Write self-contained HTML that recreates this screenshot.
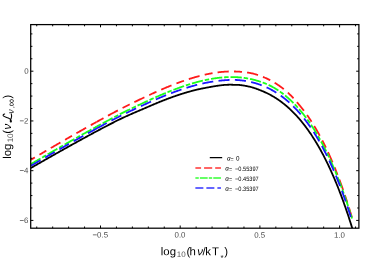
<!DOCTYPE html><html><head><meta charset="utf-8"><style>html,body{margin:0;padding:0;background:#fff}svg{display:block}text{font-family:"Liberation Sans",sans-serif;text-rendering:geometricPrecision}</style></head><body>
<svg width="373" height="259" viewBox="0 0 373 259">
<rect width="373" height="259" fill="#fff"/>
<defs><filter id="i" filterUnits="userSpaceOnUse" x="0" y="0" width="373" height="259" color-interpolation-filters="sRGB"><feOffset dx="0" dy="0"/></filter><clipPath id="c"><rect x="30.70" y="24.60" width="328.20" height="203.60"/></clipPath></defs>
<g clip-path="url(#c)" fill="none" stroke-linejoin="round">
<path d="M30.70,168.09 L31.20,167.80 L31.70,167.51 L32.20,167.23 L32.70,166.94 L33.20,166.65 L33.70,166.36 L34.20,166.08 L34.70,165.79 L35.20,165.50 L35.70,165.22 L36.20,164.93 L36.70,164.64 L37.20,164.36 L37.70,164.07 L38.20,163.78 L38.70,163.50 L39.20,163.21 L39.70,162.93 L40.20,162.64 L40.70,162.35 L41.20,162.07 L41.70,161.78 L42.20,161.50 L42.70,161.21 L43.20,160.93 L43.70,160.64 L44.20,160.35 L44.70,160.07 L45.20,159.78 L45.70,159.50 L46.20,159.21 L46.70,158.93 L47.20,158.65 L47.70,158.36 L48.20,158.08 L48.70,157.79 L49.20,157.51 L49.70,157.22 L50.20,156.94 L50.70,156.66 L51.20,156.37 L51.70,156.09 L52.20,155.81 L52.70,155.52 L53.20,155.24 L53.70,154.96 L54.20,154.67 L54.70,154.39 L55.20,154.11 L55.70,153.83 L56.20,153.54 L56.70,153.26 L57.20,152.98 L57.70,152.70 L58.20,152.41 L58.70,152.13 L59.20,151.85 L59.70,151.57 L60.20,151.29 L60.70,151.01 L61.20,150.73 L61.70,150.45 L62.20,150.16 L62.70,149.88 L63.20,149.60 L63.70,149.32 L64.20,149.04 L64.70,148.76 L65.20,148.48 L65.70,148.20 L66.20,147.92 L66.70,147.64 L67.20,147.37 L67.70,147.09 L68.20,146.81 L68.70,146.53 L69.20,146.25 L69.70,145.97 L70.20,145.69 L70.70,145.41 L71.20,145.14 L71.70,144.86 L72.20,144.58 L72.70,144.30 L73.20,144.03 L73.70,143.75 L74.20,143.47 L74.70,143.20 L75.20,142.92 L75.70,142.64 L76.20,142.37 L76.70,142.09 L77.20,141.81 L77.70,141.54 L78.20,141.26 L78.70,140.99 L79.20,140.71 L79.70,140.44 L80.20,140.16 L80.70,139.89 L81.20,139.62 L81.70,139.34 L82.20,139.07 L82.70,138.79 L83.20,138.52 L83.70,138.25 L84.20,137.97 L84.70,137.70 L85.20,137.43 L85.70,137.16 L86.20,136.88 L86.70,136.61 L87.20,136.34 L87.70,136.07 L88.20,135.80 L88.70,135.53 L89.20,135.26 L89.70,134.99 L90.20,134.72 L90.70,134.45 L91.20,134.18 L91.70,133.91 L92.20,133.64 L92.70,133.37 L93.20,133.10 L93.70,132.83 L94.20,132.56 L94.70,132.29 L95.20,132.03 L95.70,131.76 L96.20,131.49 L96.70,131.22 L97.20,130.96 L97.70,130.69 L98.20,130.43 L98.70,130.16 L99.20,129.89 L99.70,129.63 L100.20,129.36 L100.70,129.10 L101.20,128.83 L101.70,128.57 L102.20,128.31 L102.70,128.04 L103.20,127.78 L103.70,127.52 L104.20,127.25 L104.70,126.99 L105.20,126.73 L105.70,126.47 L106.20,126.21 L106.70,125.95 L107.20,125.69 L107.70,125.43 L108.20,125.17 L108.70,124.91 L109.20,124.65 L109.70,124.39 L110.20,124.13 L110.70,123.87 L111.20,123.61 L111.70,123.36 L112.20,123.10 L112.70,122.84 L113.20,122.58 L113.70,122.33 L114.20,122.07 L114.70,121.82 L115.20,121.56 L115.70,121.31 L116.20,121.06 L116.70,120.81 L117.20,120.56 L117.70,120.31 L118.20,120.06 L118.70,119.82 L119.20,119.57 L119.70,119.33 L120.20,119.09 L120.70,118.85 L121.20,118.61 L121.70,118.37 L122.20,118.13 L122.70,117.90 L123.20,117.67 L123.70,117.43 L124.20,117.20 L124.70,116.97 L125.20,116.74 L125.70,116.51 L126.20,116.29 L126.70,116.06 L127.20,115.84 L127.70,115.61 L128.20,115.39 L128.70,115.17 L129.20,114.95 L129.70,114.72 L130.20,114.50 L130.70,114.29 L131.20,114.07 L131.70,113.85 L132.20,113.63 L132.70,113.41 L133.20,113.20 L133.70,112.98 L134.20,112.77 L134.70,112.55 L135.20,112.34 L135.70,112.12 L136.20,111.91 L136.70,111.70 L137.20,111.48 L137.70,111.27 L138.20,111.05 L138.70,110.84 L139.20,110.63 L139.70,110.41 L140.20,110.20 L140.70,109.99 L141.20,109.78 L141.70,109.56 L142.20,109.35 L142.70,109.13 L143.20,108.92 L143.70,108.71 L144.20,108.49 L144.70,108.28 L145.20,108.06 L145.70,107.85 L146.20,107.63 L146.70,107.42 L147.20,107.20 L147.70,106.98 L148.20,106.77 L148.70,106.55 L149.20,106.33 L149.70,106.12 L150.20,105.90 L150.70,105.68 L151.20,105.47 L151.70,105.25 L152.20,105.04 L152.70,104.82 L153.20,104.61 L153.70,104.40 L154.20,104.18 L154.70,103.97 L155.20,103.76 L155.70,103.55 L156.20,103.34 L156.70,103.14 L157.20,102.93 L157.70,102.72 L158.20,102.52 L158.70,102.31 L159.20,102.11 L159.70,101.91 L160.20,101.70 L160.70,101.50 L161.20,101.30 L161.70,101.10 L162.20,100.90 L162.70,100.70 L163.20,100.51 L163.70,100.31 L164.20,100.12 L164.70,99.92 L165.20,99.73 L165.70,99.54 L166.20,99.34 L166.70,99.15 L167.20,98.96 L167.70,98.77 L168.20,98.59 L168.70,98.40 L169.20,98.21 L169.70,98.03 L170.20,97.84 L170.70,97.66 L171.20,97.48 L171.70,97.30 L172.20,97.12 L172.70,96.94 L173.20,96.76 L173.70,96.58 L174.20,96.41 L174.70,96.23 L175.20,96.06 L175.70,95.89 L176.20,95.72 L176.70,95.54 L177.20,95.38 L177.70,95.21 L178.20,95.04 L178.70,94.87 L179.20,94.71 L179.70,94.54 L180.20,94.38 L180.70,94.22 L181.20,94.06 L181.70,93.90 L182.20,93.74 L182.70,93.59 L183.20,93.43 L183.70,93.28 L184.20,93.12 L184.70,92.97 L185.20,92.82 L185.70,92.67 L186.20,92.52 L186.70,92.38 L187.20,92.23 L187.70,92.09 L188.20,91.94 L188.70,91.80 L189.20,91.66 L189.70,91.52 L190.20,91.38 L190.70,91.25 L191.20,91.11 L191.70,90.98 L192.20,90.84 L192.70,90.71 L193.20,90.58 L193.70,90.46 L194.20,90.33 L194.70,90.20 L195.20,90.08 L195.70,89.96 L196.20,89.84 L196.70,89.72 L197.20,89.60 L197.70,89.48 L198.20,89.37 L198.70,89.25 L199.20,89.14 L199.70,89.03 L200.20,88.92 L200.70,88.81 L201.20,88.71 L201.70,88.60 L202.20,88.50 L202.70,88.40 L203.20,88.30 L203.70,88.20 L204.20,88.11 L204.70,88.01 L205.20,87.92 L205.70,87.83 L206.20,87.73 L206.70,87.64 L207.20,87.55 L207.70,87.46 L208.20,87.37 L208.70,87.27 L209.20,87.18 L209.70,87.09 L210.20,87.00 L210.70,86.91 L211.20,86.82 L211.70,86.73 L212.20,86.65 L212.70,86.56 L213.20,86.47 L213.70,86.39 L214.20,86.30 L214.70,86.22 L215.20,86.14 L215.70,86.06 L216.20,85.98 L216.70,85.90 L217.20,85.82 L217.70,85.75 L218.20,85.67 L218.70,85.60 L219.20,85.53 L219.70,85.47 L220.20,85.40 L220.70,85.34 L221.20,85.28 L221.70,85.22 L222.20,85.17 L222.70,85.11 L223.20,85.06 L223.70,85.02 L224.20,84.97 L224.70,84.93 L225.20,84.89 L225.70,84.86 L226.20,84.83 L226.70,84.80 L227.20,84.78 L227.70,84.76 L228.20,84.74 L228.70,84.73 L229.20,84.72 L229.70,84.71 L230.20,84.71 L230.70,84.71 L231.20,84.72 L231.70,84.73 L232.20,84.74 L232.70,84.76 L233.20,84.78 L233.70,84.80 L234.20,84.81 L234.70,84.82 L235.20,84.83 L235.70,84.83 L236.20,84.84 L236.70,84.85 L237.20,84.86 L237.70,84.87 L238.20,84.89 L238.70,84.92 L239.20,84.96 L239.70,85.01 L240.20,85.07 L240.70,85.13 L241.20,85.19 L241.70,85.26 L242.20,85.33 L242.70,85.40 L243.20,85.48 L243.70,85.56 L244.20,85.64 L244.70,85.73 L245.20,85.81 L245.70,85.91 L246.20,86.00 L246.70,86.10 L247.20,86.20 L247.70,86.30 L248.20,86.41 L248.70,86.51 L249.20,86.63 L249.70,86.74 L250.20,86.86 L250.70,86.99 L251.20,87.12 L251.70,87.25 L252.20,87.39 L252.70,87.54 L253.20,87.69 L253.70,87.85 L254.20,88.01 L254.70,88.18 L255.20,88.35 L255.70,88.52 L256.20,88.70 L256.70,88.88 L257.20,89.07 L257.70,89.26 L258.20,89.45 L258.70,89.64 L259.20,89.83 L259.70,90.03 L260.20,90.23 L260.70,90.42 L261.20,90.63 L261.70,90.83 L262.20,91.03 L262.70,91.24 L263.20,91.45 L263.70,91.66 L264.20,91.88 L264.70,92.10 L265.20,92.33 L265.70,92.56 L266.20,92.79 L266.70,93.03 L267.20,93.27 L267.70,93.52 L268.20,93.77 L268.70,94.02 L269.20,94.28 L269.70,94.54 L270.20,94.81 L270.70,95.08 L271.20,95.36 L271.70,95.64 L272.20,95.92 L272.70,96.21 L273.20,96.50 L273.70,96.80 L274.20,97.10 L274.70,97.41 L275.20,97.72 L275.70,98.04 L276.20,98.36 L276.70,98.68 L277.20,99.01 L277.70,99.35 L278.20,99.69 L278.70,100.03 L279.20,100.38 L279.70,100.73 L280.20,101.09 L280.70,101.46 L281.20,101.83 L281.70,102.20 L282.20,102.58 L282.70,102.96 L283.20,103.35 L283.70,103.75 L284.20,104.15 L284.70,104.55 L285.20,104.96 L285.70,105.38 L286.20,105.80 L286.70,106.22 L287.20,106.66 L287.70,107.09 L288.20,107.54 L288.70,107.98 L289.20,108.44 L289.70,108.90 L290.20,109.36 L290.70,109.83 L291.20,110.31 L291.70,110.79 L292.20,111.28 L292.70,111.77 L293.20,112.27 L293.70,112.78 L294.20,113.29 L294.70,113.81 L295.20,114.33 L295.70,114.87 L296.20,115.40 L296.70,115.94 L297.20,116.49 L297.70,117.05 L298.20,117.61 L298.70,118.18 L299.20,118.75 L299.70,119.34 L300.20,119.92 L300.70,120.52 L301.20,121.12 L301.70,121.73 L302.20,122.34 L302.70,122.96 L303.20,123.59 L303.70,124.23 L304.20,124.87 L304.70,125.52 L305.20,126.17 L305.70,126.84 L306.20,127.51 L306.70,128.18 L307.20,128.87 L307.70,129.56 L308.20,130.26 L308.70,130.97 L309.20,131.68 L309.70,132.40 L310.20,133.13 L310.70,133.87 L311.20,134.61 L311.70,135.37 L312.20,136.13 L312.70,136.90 L313.20,137.67 L313.70,138.46 L314.20,139.25 L314.70,140.05 L315.20,140.86 L315.70,141.67 L316.20,142.50 L316.70,143.33 L317.20,144.17 L317.70,145.02 L318.20,145.88 L318.70,146.75 L319.20,147.62 L319.70,148.51 L320.20,149.40 L320.70,150.30 L321.20,151.22 L321.70,152.14 L322.20,153.06 L322.70,154.00 L323.20,154.95 L323.70,155.91 L324.20,156.87 L324.70,157.85 L325.20,158.83 L325.70,159.82 L326.20,160.83 L326.70,161.84 L327.20,162.86 L327.70,163.90 L328.20,164.94 L328.70,165.99 L329.20,167.05 L329.70,168.13 L330.20,169.21 L330.70,170.30 L331.20,171.40 L331.70,172.52 L332.20,173.64 L332.70,174.77 L333.20,175.92 L333.70,177.07 L334.20,178.24 L334.70,179.42 L335.20,180.61 L335.70,181.80 L336.20,183.01 L336.70,184.23 L337.20,185.47 L337.70,186.71 L338.20,187.97 L338.70,189.23 L339.20,190.51 L339.70,191.80 L340.20,193.10 L340.70,194.41 L341.20,195.74 L341.70,197.07 L342.20,198.42 L342.70,199.78 L343.20,201.16 L343.70,202.54 L344.20,203.94 L344.70,205.35 L345.20,206.77 L345.70,208.21 L346.20,209.66 L346.70,211.12 L347.20,212.59 L347.70,214.08 L348.20,215.58 L348.70,217.09 L349.20,218.62 L349.70,220.16 L350.20,221.71 L350.70,223.28 L351.20,224.86 L351.70,226.45 L352.20,228.06 L352.30,228.39" stroke="#000" stroke-width="1.8"/>
<path d="M30.70,159.90 L31.20,159.60 L31.70,159.31 L32.20,159.01 L32.70,158.72 L33.20,158.42 L33.70,158.12 L34.20,157.83 L34.70,157.53 L35.20,157.24 L35.70,156.94 L36.20,156.65 L36.70,156.35 L37.20,156.06 L37.70,155.76 L38.20,155.47 L38.70,155.17 L39.20,154.88 L39.70,154.59 L40.20,154.29 L40.70,154.00 L41.20,153.70 L41.70,153.41 L42.20,153.11 L42.70,152.82 L43.20,152.53 L43.70,152.23 L44.20,151.94 L44.70,151.65 L45.20,151.35 L45.70,151.06 L46.20,150.77 L46.70,150.47 L47.20,150.18 L47.70,149.89 L48.20,149.59 L48.70,149.30 L49.20,149.01 L49.70,148.72 L50.20,148.42 L50.70,148.13 L51.20,147.84 L51.70,147.55 L52.20,147.26 L52.70,146.96 L53.20,146.67 L53.70,146.38 L54.20,146.09 L54.70,145.80 L55.20,145.51 L55.70,145.22 L56.20,144.93 L56.70,144.63 L57.20,144.34 L57.70,144.05 L58.20,143.76 L58.70,143.47 L59.20,143.18 L59.70,142.89 L60.20,142.60 L60.70,142.31 L61.20,142.02 L61.70,141.73 L62.20,141.44 L62.70,141.15 L63.20,140.86 L63.70,140.58 L64.20,140.29 L64.70,140.00 L65.20,139.71 L65.70,139.42 L66.20,139.13 L66.70,138.84 L67.20,138.56 L67.70,138.27 L68.20,137.98 L68.70,137.69 L69.20,137.41 L69.70,137.12 L70.20,136.83 L70.70,136.54 L71.20,136.26 L71.70,135.97 L72.20,135.68 L72.70,135.40 L73.20,135.11 L73.70,134.83 L74.20,134.54 L74.70,134.25 L75.20,133.97 L75.70,133.68 L76.20,133.40 L76.70,133.11 L77.20,132.83 L77.70,132.54 L78.20,132.26 L78.70,131.97 L79.20,131.69 L79.70,131.41 L80.20,131.12 L80.70,130.84 L81.20,130.55 L81.70,130.27 L82.20,129.99 L82.70,129.70 L83.20,129.42 L83.70,129.14 L84.20,128.86 L84.70,128.58 L85.20,128.29 L85.70,128.01 L86.20,127.73 L86.70,127.45 L87.20,127.17 L87.70,126.89 L88.20,126.61 L88.70,126.33 L89.20,126.04 L89.70,125.76 L90.20,125.48 L90.70,125.21 L91.20,124.93 L91.70,124.65 L92.20,124.37 L92.70,124.09 L93.20,123.81 L93.70,123.53 L94.20,123.25 L94.70,122.98 L95.20,122.70 L95.70,122.42 L96.20,122.14 L96.50,121.98" stroke="#ff1a1a" stroke-width="1.80" stroke-dasharray="8.0 5.1 11.2 5.3" stroke-dashoffset="19.40"/>
<path d="M96.50,121.98 L97.00,121.70 L97.50,121.42 L98.00,121.15 L98.50,120.87 L99.00,120.60 L99.50,120.32 L100.00,120.04 L100.50,119.77 L101.00,119.50 L101.50,119.22 L102.00,118.95 L102.50,118.67 L103.00,118.40 L103.50,118.13 L104.00,117.85 L104.50,117.58 L105.00,117.31 L105.50,117.03 L106.00,116.76 L106.50,116.49 L107.00,116.22 L107.50,115.95 L108.00,115.68 L108.50,115.41 L109.00,115.14 L109.50,114.87 L110.00,114.60 L110.50,114.33 L111.00,114.06 L111.50,113.79 L112.00,113.52 L112.50,113.25 L113.00,112.98 L113.50,112.72 L114.00,112.45 L114.50,112.18 L115.00,111.92 L115.50,111.65 L116.00,111.39 L116.50,111.12 L117.00,110.86 L117.50,110.59 L118.00,110.33 L118.50,110.07 L119.00,109.81 L119.50,109.55 L120.00,109.29 L120.50,109.03 L121.00,108.77 L121.50,108.52 L122.00,108.26 L122.50,108.01 L123.00,107.75 L123.50,107.50 L124.00,107.24 L124.50,106.99 L125.00,106.74 L125.50,106.49 L126.00,106.24 L126.50,105.98 L127.00,105.74 L127.50,105.49 L128.00,105.24 L128.50,104.99 L129.00,104.74 L129.50,104.50 L130.00,104.25 L130.50,104.00 L131.00,103.76 L131.50,103.51 L132.00,103.27 L132.50,103.03 L133.00,102.78 L133.50,102.54 L134.00,102.30 L134.50,102.06 L135.00,101.82 L135.50,101.57 L136.00,101.33 L136.50,101.09 L137.00,100.85 L137.50,100.61 L138.00,100.37 L138.50,100.14 L139.00,99.90 L139.50,99.66 L140.00,99.42 L140.50,99.18 L141.00,98.95 L141.50,98.71 L142.00,98.47 L142.50,98.23 L143.00,98.00 L143.50,97.76 L144.00,97.53 L144.50,97.29 L145.00,97.05 L145.50,96.82 L146.00,96.58 L146.50,96.35 L147.00,96.11 L147.50,95.88 L148.00,95.65 L148.50,95.41 L149.00,95.18 L149.50,94.95 L150.00,94.71 L150.50,94.48 L151.00,94.25 L151.50,94.02 L152.00,93.78 L152.50,93.55 L153.00,93.32 L153.50,93.10 L154.00,92.87 L154.50,92.64 L155.00,92.41 L155.50,92.19 L156.00,91.96 L156.50,91.74 L157.00,91.51 L157.50,91.29 L158.00,91.07 L158.50,90.85 L159.00,90.63 L159.50,90.41 L160.00,90.19 L160.50,89.97 L161.00,89.75 L161.50,89.53 L162.00,89.32 L162.50,89.10 L163.00,88.89 L163.50,88.67 L164.00,88.46 L164.50,88.25 L165.00,88.04 L165.50,87.83 L166.00,87.62 L166.50,87.41 L167.00,87.20 L167.50,86.99 L168.00,86.79 L168.50,86.58 L169.00,86.38 L169.50,86.17 L170.00,85.97 L170.50,85.77 L171.00,85.57 L171.50,85.37 L172.00,85.17 L172.50,84.97 L173.00,84.78 L173.50,84.58 L174.00,84.39 L174.50,84.19 L175.00,84.00 L175.50,83.81 L176.00,83.62 L176.50,83.43 L177.00,83.24 L177.50,83.05 L178.00,82.86 L178.50,82.68 L179.00,82.49 L179.50,82.31 L180.00,82.13 L180.50,81.95 L181.00,81.77 L181.50,81.59 L182.00,81.41 L182.50,81.23 L183.00,81.06 L183.50,80.89 L184.00,80.71 L184.50,80.54 L185.00,80.37 L185.50,80.20 L186.00,80.03 L186.50,79.86 L187.00,79.70 L187.50,79.53 L188.00,79.37 L188.50,79.21 L189.00,79.05 L189.50,78.89 L190.00,78.73 L190.50,78.57 L191.00,78.42 L191.50,78.27 L192.00,78.11 L192.50,77.96 L193.00,77.81 L193.50,77.66 L194.00,77.52 L194.50,77.37 L195.00,77.23 L195.50,77.08 L196.00,76.94 L196.50,76.80 L197.00,76.66 L197.50,76.53 L198.00,76.39 L198.50,76.26 L199.00,76.12 L199.50,75.99 L200.00,75.86 L200.50,75.73 L201.00,75.61 L201.50,75.48 L202.00,75.36 L202.50,75.24 L203.00,75.12 L203.50,75.00 L204.00,74.88 L204.50,74.77 L205.00,74.66 L205.50,74.54 L206.00,74.44 L206.50,74.33 L207.00,74.22 L207.50,74.12 L208.00,74.01 L208.50,73.91 L209.00,73.81 L209.50,73.72 L210.00,73.62 L210.50,73.53 L211.00,73.43 L211.50,73.34 L212.00,73.26 L212.50,73.17 L213.00,73.08 L213.50,73.00 L214.00,72.92 L214.50,72.84 L215.00,72.77 L215.50,72.69 L216.00,72.62 L216.50,72.55 L217.00,72.48 L217.50,72.41 L218.00,72.35 L218.50,72.28 L219.00,72.22 L219.50,72.17 L220.00,72.11 L220.50,72.06 L221.00,72.00 L221.50,71.95 L222.00,71.91 L222.50,71.86 L223.00,71.82 L223.50,71.78 L224.00,71.74 L224.50,71.70 L225.00,71.67 L225.50,71.64 L226.00,71.61 L226.50,71.58 L227.00,71.56 L227.50,71.53 L228.00,71.51 L228.50,71.50 L229.00,71.48 L229.50,71.47 L230.00,71.46 L230.50,71.45 L231.00,71.44 L231.50,71.44 L232.00,71.44 L232.50,71.44 L233.00,71.45 L233.50,71.46 L234.00,71.47 L234.50,71.48 L235.00,71.50 L235.50,71.51 L236.00,71.53 L236.50,71.55 L237.00,71.58 L237.50,71.60 L238.00,71.62 L238.50,71.65 L239.00,71.68 L239.50,71.71 L240.00,71.74 L240.50,71.78 L241.00,71.82 L241.50,71.85 L242.00,71.90 L242.50,71.94 L243.00,71.99 L243.50,72.03 L244.00,72.09 L244.50,72.14 L245.00,72.20 L245.50,72.26 L246.00,72.32 L246.50,72.39 L247.00,72.46 L247.50,72.53 L248.00,72.61 L248.50,72.69 L249.00,72.78 L249.50,72.87 L250.00,72.96 L250.50,73.06 L251.00,73.16 L251.50,73.27 L252.00,73.38 L252.50,73.49 L253.00,73.61 L253.50,73.74 L254.00,73.87 L254.50,74.00 L255.00,74.14 L255.50,74.29 L256.00,74.43 L256.50,74.58 L257.00,74.74 L257.50,74.89 L258.00,75.06 L258.50,75.22 L259.00,75.39 L259.50,75.56 L260.00,75.74 L260.50,75.92 L261.00,76.11 L261.50,76.29 L262.00,76.49 L262.50,76.68 L263.00,76.88 L263.50,77.09 L264.00,77.30 L264.50,77.51 L265.00,77.72 L265.50,77.95 L266.00,78.17 L266.50,78.40 L267.00,78.63 L267.50,78.87 L268.00,79.11 L268.50,79.36 L269.00,79.61 L269.50,79.86 L270.00,80.12 L270.50,80.39 L271.00,80.66 L271.50,80.93 L272.00,81.21 L272.50,81.49 L273.00,81.78 L273.50,82.07 L274.00,82.36 L274.50,82.66 L275.00,82.97 L275.50,83.28 L276.00,83.59 L276.50,83.91 L277.00,84.24 L277.50,84.57 L278.00,84.90 L278.50,85.24 L279.00,85.59 L279.50,85.94 L280.00,86.29 L280.50,86.65 L281.00,87.02 L281.50,87.39 L282.00,87.77 L282.50,88.15 L283.00,88.53 L283.50,88.92 L284.00,89.32 L284.50,89.72 L285.00,90.13 L285.50,90.55 L285.99,90.97 L286.49,91.39 L286.98,91.82 L287.46,92.26 L287.95,92.70 L288.43,93.15 L288.91,93.60 L289.39,94.06 L289.86,94.53 L290.34,95.00 L290.81,95.48 L291.28,95.96 L291.75,96.45 L292.23,96.94 L292.70,97.45 L293.17,97.95 L293.64,98.47 L294.11,98.99 L294.59,99.52 L295.06,100.05 L295.54,100.59 L296.02,101.14 L296.50,101.69 L296.99,102.25 L297.47,102.81 L297.96,103.39 L298.46,103.97 L298.95,104.55 L299.45,105.15 L299.95,105.75 L300.45,106.35 L300.95,106.97 L301.45,107.59 L301.95,108.21 L302.45,108.85 L302.95,109.49 L303.45,110.14 L303.95,110.80 L304.45,111.46 L304.95,112.13 L305.45,112.81 L305.95,113.50 L306.45,114.19 L306.95,114.89 L307.45,115.60 L307.95,116.32 L308.45,117.05 L308.95,117.78 L309.45,118.52 L309.95,119.27 L310.45,120.02 L310.95,120.79 L311.45,121.56 L311.95,122.34 L312.45,123.13 L312.95,123.93 L313.45,124.73 L313.95,125.55 L314.45,126.37 L314.95,127.20 L315.45,128.04 L315.95,128.89 L316.45,129.75 L316.95,130.61 L317.45,131.49 L317.95,132.37 L318.45,133.26 L318.95,134.17 L319.45,135.08 L319.95,136.00 L320.45,136.93 L320.95,137.86 L321.45,138.81 L321.95,139.77 L322.45,140.74 L322.95,141.71 L323.45,142.70 L323.95,143.69 L324.45,144.70 L324.95,145.72 L325.45,146.74 L325.95,147.78 L326.45,148.82 L326.95,149.88 L327.45,150.94 L327.95,152.02 L328.45,153.11 L328.95,154.20 L329.45,155.31 L329.95,156.43 L330.45,157.56 L330.95,158.70 L331.45,159.85 L331.95,161.01 L332.45,162.18 L332.95,163.37 L333.45,164.56 L333.95,165.77 L334.45,166.98 L334.95,168.21 L335.45,169.45 L335.95,170.71 L336.45,171.97 L336.95,173.24 L337.45,174.53 L337.95,175.83 L338.45,177.14 L338.95,178.46 L339.45,179.80 L339.95,181.15 L340.45,182.50 L340.95,183.88 L341.45,185.26 L341.95,186.66 L342.45,188.07 L342.95,189.49 L343.45,190.93 L343.95,192.38 L344.45,193.84 L344.95,195.31 L345.45,196.80 L345.95,198.30 L346.45,199.82 L346.95,201.34 L347.45,202.89 L347.95,204.44 L348.45,206.01 L348.95,207.60 L349.45,209.19 L349.95,210.81 L350.45,212.43 L350.95,214.07 L351.45,215.73 L351.95,217.40" stroke="#ff1a1a" stroke-width="1.80" stroke-dasharray="8.0 5.1 11.2 5.3"/>
<path d="M30.70,164.24 L31.20,163.95 L31.70,163.65 L32.20,163.36 L32.70,163.07 L33.20,162.78 L33.70,162.48 L34.20,162.19 L34.70,161.90 L35.20,161.61 L35.70,161.32 L36.20,161.02 L36.70,160.73 L37.20,160.44 L37.70,160.15 L38.20,159.86 L38.70,159.56 L39.20,159.27 L39.70,158.98 L40.20,158.69 L40.70,158.40 L41.20,158.11 L41.70,157.82 L42.20,157.53 L42.70,157.23 L43.20,156.94 L43.70,156.65 L44.20,156.36 L44.70,156.07 L45.20,155.78 L45.70,155.49 L46.20,155.20 L46.70,154.91 L47.20,154.62 L47.70,154.33 L48.20,154.04 L48.70,153.75 L49.20,153.46 L49.70,153.17 L50.20,152.88 L50.70,152.59 L51.20,152.31 L51.70,152.02 L52.20,151.73 L52.70,151.44 L53.20,151.15 L53.70,150.86 L54.20,150.57 L54.70,150.28 L55.20,150.00 L55.70,149.71 L56.20,149.42 L56.70,149.13 L57.20,148.84 L57.70,148.56 L58.20,148.27 L58.70,147.98 L59.20,147.70 L59.70,147.41 L60.20,147.12 L60.70,146.83 L61.20,146.55 L61.70,146.26 L62.20,145.97 L62.70,145.69 L63.20,145.40 L63.70,145.12 L64.20,144.83 L64.70,144.54 L65.20,144.26 L65.70,143.97 L66.20,143.69 L66.70,143.40 L67.20,143.12 L67.70,142.83 L68.20,142.55 L68.70,142.26 L69.20,141.98 L69.70,141.69 L70.20,141.41 L70.70,141.13 L71.20,140.84 L71.70,140.56 L72.20,140.27 L72.70,139.99 L73.20,139.71 L73.70,139.42 L74.20,139.14 L74.70,138.86 L75.20,138.58 L75.70,138.29 L76.20,138.01 L76.70,137.73 L77.20,137.45 L77.70,137.17 L78.20,136.88 L78.70,136.60 L79.20,136.32 L79.70,136.04 L80.20,135.76 L80.70,135.48 L81.20,135.20 L81.70,134.92 L82.20,134.64 L82.70,134.36 L83.20,134.08 L83.70,133.80 L84.20,133.52 L84.70,133.24 L85.20,132.96 L85.70,132.68 L86.20,132.40 L86.70,132.13 L87.20,131.85 L87.70,131.57 L88.20,131.29 L88.70,131.01 L89.20,130.74 L89.70,130.46 L90.20,130.18 L90.70,129.91 L91.20,129.63 L91.70,129.35 L92.20,129.08 L92.70,128.80 L93.20,128.53 L93.70,128.25 L94.20,127.97 L94.70,127.70 L95.20,127.43 L95.70,127.15 L96.20,126.88 L96.70,126.60 L97.00,126.44" stroke="#1aff1a" stroke-width="1.80" stroke-dasharray="4.5 1.9 11.3 1.9" stroke-dashoffset="6.40"/>
<path d="M97.00,126.44 L97.50,126.16 L98.00,125.89 L98.50,125.62 L99.00,125.35 L99.50,125.07 L100.00,124.80 L100.50,124.53 L101.00,124.26 L101.50,123.99 L102.00,123.71 L102.50,123.44 L103.00,123.17 L103.50,122.90 L104.00,122.63 L104.50,122.36 L105.00,122.09 L105.50,121.82 L106.00,121.55 L106.50,121.29 L107.00,121.02 L107.50,120.75 L108.00,120.48 L108.50,120.21 L109.00,119.95 L109.50,119.68 L110.00,119.41 L110.50,119.15 L111.00,118.88 L111.50,118.61 L112.00,118.35 L112.50,118.08 L113.00,117.82 L113.50,117.55 L114.00,117.29 L114.50,117.03 L115.00,116.76 L115.50,116.50 L116.00,116.24 L116.50,115.98 L117.00,115.72 L117.50,115.46 L118.00,115.20 L118.50,114.94 L119.00,114.68 L119.50,114.43 L120.00,114.17 L120.50,113.92 L121.00,113.66 L121.50,113.41 L122.00,113.15 L122.50,112.90 L123.00,112.65 L123.50,112.40 L124.00,112.15 L124.50,111.90 L125.00,111.65 L125.50,111.41 L126.00,111.16 L126.50,110.91 L127.00,110.67 L127.50,110.42 L128.00,110.18 L128.50,109.94 L129.00,109.69 L129.50,109.45 L130.00,109.21 L130.50,108.97 L131.00,108.73 L131.50,108.48 L132.00,108.24 L132.50,108.01 L133.00,107.77 L133.50,107.53 L134.00,107.29 L134.50,107.05 L135.00,106.82 L135.50,106.58 L136.00,106.34 L136.50,106.11 L137.00,105.87 L137.50,105.63 L138.00,105.40 L138.50,105.17 L139.00,104.93 L139.50,104.70 L140.00,104.46 L140.50,104.23 L141.00,104.00 L141.50,103.76 L142.00,103.53 L142.50,103.30 L143.00,103.06 L143.50,102.83 L144.00,102.60 L144.50,102.37 L145.00,102.14 L145.50,101.90 L146.00,101.67 L146.50,101.44 L147.00,101.21 L147.50,100.98 L148.00,100.75 L148.50,100.52 L149.00,100.29 L149.50,100.06 L150.00,99.83 L150.50,99.60 L151.00,99.37 L151.50,99.14 L152.00,98.91 L152.50,98.69 L153.00,98.46 L153.50,98.24 L154.00,98.01 L154.50,97.79 L155.00,97.56 L155.50,97.34 L156.00,97.12 L156.50,96.90 L157.00,96.68 L157.50,96.46 L158.00,96.24 L158.50,96.02 L159.00,95.80 L159.50,95.58 L160.00,95.37 L160.50,95.15 L161.00,94.94 L161.50,94.73 L162.00,94.51 L162.50,94.30 L163.00,94.09 L163.50,93.88 L164.00,93.67 L164.50,93.46 L165.00,93.25 L165.50,93.05 L166.00,92.84 L166.50,92.63 L167.00,92.43 L167.50,92.23 L168.00,92.02 L168.50,91.82 L169.00,91.62 L169.50,91.42 L170.00,91.22 L170.50,91.02 L171.00,90.83 L171.50,90.63 L172.00,90.44 L172.50,90.24 L173.00,90.05 L173.50,89.86 L174.00,89.66 L174.50,89.47 L175.00,89.28 L175.50,89.10 L176.00,88.91 L176.50,88.72 L177.00,88.54 L177.50,88.35 L178.00,88.17 L178.50,87.99 L179.00,87.81 L179.50,87.63 L180.00,87.45 L180.50,87.27 L181.00,87.10 L181.50,86.92 L182.00,86.75 L182.50,86.57 L183.00,86.40 L183.50,86.23 L184.00,86.06 L184.50,85.89 L185.00,85.72 L185.50,85.56 L186.00,85.39 L186.50,85.23 L187.00,85.07 L187.50,84.91 L188.00,84.75 L188.50,84.59 L189.00,84.43 L189.50,84.28 L190.00,84.12 L190.50,83.97 L191.00,83.82 L191.50,83.66 L192.00,83.52 L192.50,83.37 L193.00,83.22 L193.50,83.08 L194.00,82.93 L194.50,82.79 L195.00,82.65 L195.50,82.51 L196.00,82.37 L196.50,82.23 L197.00,82.10 L197.50,81.96 L198.00,81.83 L198.50,81.70 L199.00,81.57 L199.50,81.44 L200.00,81.32 L200.50,81.19 L201.00,81.07 L201.50,80.95 L202.00,80.83 L202.50,80.71 L203.00,80.59 L203.50,80.48 L204.00,80.37 L204.50,80.25 L205.00,80.14 L205.50,80.03 L206.00,79.93 L206.50,79.82 L207.00,79.72 L207.50,79.62 L208.00,79.52 L208.50,79.42 L209.00,79.32 L209.50,79.23 L210.00,79.14 L210.50,79.04 L211.00,78.96 L211.50,78.87 L212.00,78.78 L212.50,78.70 L213.00,78.62 L213.50,78.54 L214.00,78.46 L214.50,78.38 L215.00,78.31 L215.50,78.24 L216.00,78.17 L216.50,78.10 L217.00,78.03 L217.50,77.97 L218.00,77.90 L218.50,77.84 L219.00,77.79 L219.50,77.73 L220.00,77.68 L220.50,77.62 L221.00,77.57 L221.50,77.53 L222.00,77.48 L222.50,77.44 L223.00,77.40 L223.50,77.36 L224.00,77.32 L224.50,77.29 L225.00,77.26 L225.50,77.23 L226.00,77.20 L226.50,77.17 L227.00,77.15 L227.50,77.13 L228.00,77.11 L228.50,77.09 L229.00,77.08 L229.50,77.07 L230.00,77.06 L230.50,77.05 L231.00,77.05 L231.50,77.05 L232.00,77.05 L232.50,77.05 L233.00,77.06 L233.50,77.07 L234.00,77.08 L234.50,77.09 L235.00,77.11 L235.50,77.13 L236.00,77.15 L236.50,77.18 L237.00,77.20 L237.50,77.23 L238.00,77.26 L238.50,77.30 L239.00,77.34 L239.50,77.38 L240.00,77.42 L240.50,77.47 L241.00,77.52 L241.50,77.57 L242.00,77.62 L242.50,77.68 L243.00,77.74 L243.50,77.81 L244.00,77.87 L244.50,77.94 L245.00,78.02 L245.50,78.09 L246.00,78.17 L246.50,78.25 L247.00,78.34 L247.50,78.43 L248.00,78.52 L248.50,78.61 L249.00,78.71 L249.50,78.81 L250.00,78.92 L250.50,79.02 L251.00,79.13 L251.50,79.24 L252.00,79.36 L252.50,79.48 L253.00,79.59 L253.50,79.72 L254.00,79.84 L254.50,79.97 L255.00,80.10 L255.50,80.23 L256.00,80.37 L256.50,80.51 L257.00,80.65 L257.50,80.79 L258.00,80.94 L258.50,81.09 L259.00,81.24 L259.50,81.40 L260.00,81.56 L260.50,81.73 L261.00,81.89 L261.50,82.07 L262.00,82.24 L262.50,82.42 L263.00,82.60 L263.50,82.79 L264.00,82.98 L264.50,83.18 L265.00,83.38 L265.50,83.58 L266.00,83.79 L266.50,84.00 L267.00,84.22 L267.50,84.44 L268.00,84.67 L268.50,84.90 L269.00,85.14 L269.50,85.38 L270.00,85.63 L270.50,85.88 L271.00,86.13 L271.50,86.40 L272.00,86.66 L272.50,86.94 L273.00,87.21 L273.50,87.50 L274.00,87.78 L274.50,88.08 L275.00,88.38 L275.50,88.68 L276.00,88.99 L276.50,89.31 L277.00,89.63 L277.50,89.95 L278.00,90.28 L278.50,90.61 L279.00,90.95 L279.50,91.30 L280.00,91.64 L280.50,92.00 L281.00,92.36 L281.50,92.72 L282.00,93.09 L282.50,93.46 L283.00,93.84 L283.50,94.23 L284.00,94.62 L284.50,95.01 L285.00,95.41 L285.50,95.82 L286.00,96.23 L286.50,96.65 L287.00,97.07 L287.50,97.50 L288.00,97.93 L288.50,98.37 L289.00,98.82 L289.50,99.27 L290.00,99.73 L290.50,100.19 L291.00,100.66 L291.50,101.13 L292.00,101.61 L292.50,102.10 L293.00,102.59 L293.50,103.09 L294.00,103.59 L294.50,104.10 L295.00,104.62 L295.50,105.14 L296.00,105.67 L296.50,106.21 L297.00,106.75 L297.50,107.30 L298.00,107.85 L298.50,108.42 L299.00,108.98 L299.50,109.56 L300.00,110.14 L300.50,110.73 L301.00,111.32 L301.50,111.93 L302.00,112.53 L302.50,113.15 L303.00,113.77 L303.50,114.40 L304.00,115.04 L304.50,115.68 L305.00,116.33 L305.50,116.99 L306.00,117.66 L306.50,118.33 L307.00,119.01 L307.50,119.70 L308.00,120.39 L308.50,121.10 L309.00,121.81 L309.50,122.52 L310.00,123.25 L310.50,123.98 L311.00,124.72 L311.50,125.47 L312.00,126.23 L312.50,127.00 L313.00,127.77 L313.50,128.55 L314.00,129.34 L314.50,130.14 L315.00,130.94 L315.50,131.76 L316.00,132.58 L316.50,133.41 L317.00,134.25 L317.50,135.10 L318.00,135.96 L318.50,136.82 L319.00,137.70 L319.50,138.58 L320.00,139.47 L320.50,140.38 L321.00,141.29 L321.50,142.21 L322.00,143.13 L322.50,144.07 L323.00,145.02 L323.50,145.98 L324.00,146.94 L324.50,147.92 L325.00,148.90 L325.50,149.90 L326.00,150.90 L326.50,151.92 L327.00,152.94 L327.50,153.97 L328.00,155.02 L328.50,156.07 L329.00,157.14 L329.50,158.21 L330.00,159.30 L330.50,160.39 L331.00,161.50 L331.50,162.61 L332.00,163.74 L332.50,164.88 L333.00,166.03 L333.50,167.19 L334.00,168.36 L334.50,169.54 L335.00,170.73 L335.50,171.93 L336.00,173.15 L336.50,174.37 L337.00,175.61 L337.50,176.86 L338.00,178.12 L338.50,179.39 L339.00,180.67 L339.50,181.97 L340.00,183.28 L340.50,184.60 L341.00,185.93 L341.50,187.27 L342.00,188.63 L342.50,189.99 L343.00,191.38 L343.50,192.77 L344.00,194.17 L344.50,195.59 L345.00,197.02 L345.50,198.47 L346.00,199.93 L346.50,201.40 L347.00,202.88 L347.50,204.38 L348.00,205.89 L348.50,207.41 L349.00,208.95 L349.50,210.50 L350.00,212.06 L350.50,213.64 L351.00,215.23 L351.50,216.84 L352.00,218.46" stroke="#1aff1a" stroke-width="1.80" stroke-dasharray="4.5 1.9 11.3 1.9"/>
<path d="M30.70,165.92 L31.20,165.63 L31.70,165.33 L32.20,165.04 L32.70,164.75 L33.20,164.46 L33.70,164.17 L34.20,163.88 L34.70,163.59 L35.20,163.30 L35.70,163.01 L36.20,162.72 L36.70,162.43 L37.20,162.14 L37.70,161.84 L38.20,161.55 L38.70,161.26 L39.20,160.97 L39.70,160.68 L40.20,160.39 L40.70,160.10 L41.20,159.81 L41.70,159.53 L42.20,159.24 L42.70,158.95 L43.20,158.66 L43.70,158.37 L44.20,158.08 L44.70,157.79 L45.20,157.50 L45.70,157.21 L46.20,156.92 L46.70,156.63 L47.20,156.35 L47.70,156.06 L48.20,155.77 L48.70,155.48 L49.20,155.19 L49.70,154.91 L50.20,154.62 L50.70,154.33 L51.20,154.04 L51.70,153.75 L52.20,153.47 L52.70,153.18 L53.20,152.89 L53.70,152.61 L54.20,152.32 L54.70,152.03 L55.20,151.74 L55.70,151.46 L56.20,151.17 L56.70,150.89 L57.20,150.60 L57.70,150.31 L58.20,150.03 L58.70,149.74 L59.20,149.46 L59.70,149.17 L60.20,148.88 L60.70,148.60 L61.20,148.31 L61.70,148.03 L62.20,147.74 L62.70,147.46 L63.20,147.17 L63.70,146.89 L64.20,146.61 L64.70,146.32 L65.20,146.04 L65.70,145.75 L66.20,145.47 L66.70,145.19 L67.20,144.90 L67.70,144.62 L68.20,144.34 L68.70,144.05 L69.20,143.77 L69.70,143.49 L70.20,143.21 L70.70,142.92 L71.20,142.64 L71.70,142.36 L72.20,142.08 L72.70,141.80 L73.20,141.51 L73.70,141.23 L74.20,140.95 L74.70,140.67 L75.20,140.39 L75.70,140.11 L76.20,139.83 L76.70,139.55 L77.20,139.27 L77.70,138.99 L78.20,138.71 L78.70,138.43 L79.20,138.15 L79.70,137.87 L80.20,137.59 L80.70,137.31 L81.20,137.03 L81.70,136.75 L82.20,136.47 L82.70,136.20 L83.20,135.92 L83.70,135.64 L84.20,135.36 L84.70,135.09 L85.20,134.81 L85.70,134.53 L86.20,134.26 L86.70,133.98 L87.20,133.70 L87.70,133.43 L88.20,133.15 L88.70,132.87 L89.20,132.60 L89.70,132.32 L90.20,132.05 L90.70,131.77 L91.20,131.50 L91.70,131.23 L92.20,130.95 L92.70,130.68 L93.20,130.40 L93.70,130.13 L94.20,129.86 L94.70,129.58 L95.20,129.31 L95.70,129.04 L96.20,128.77 L96.70,128.50 L97.00,128.33" stroke="#1a1aff" stroke-width="1.80" stroke-dasharray="11.1 5.3" stroke-dashoffset="16.10"/>
<path d="M97.00,128.33 L97.50,128.06 L98.00,127.79 L98.50,127.52 L99.00,127.25 L99.50,126.98 L100.00,126.71 L100.50,126.44 L101.00,126.17 L101.50,125.90 L102.00,125.63 L102.50,125.36 L103.00,125.09 L103.50,124.82 L104.00,124.56 L104.50,124.29 L105.00,124.02 L105.50,123.75 L106.00,123.49 L106.50,123.22 L107.00,122.95 L107.50,122.69 L108.00,122.42 L108.50,122.16 L109.00,121.89 L109.50,121.63 L110.00,121.36 L110.50,121.10 L111.00,120.84 L111.50,120.57 L112.00,120.31 L112.50,120.05 L113.00,119.79 L113.50,119.52 L114.00,119.26 L114.50,119.00 L115.00,118.74 L115.50,118.48 L116.00,118.22 L116.50,117.96 L117.00,117.70 L117.50,117.45 L118.00,117.19 L118.50,116.94 L119.00,116.68 L119.50,116.43 L120.00,116.17 L120.50,115.92 L121.00,115.67 L121.50,115.42 L122.00,115.17 L122.50,114.92 L123.00,114.67 L123.50,114.43 L124.00,114.18 L124.50,113.93 L125.00,113.69 L125.50,113.44 L126.00,113.20 L126.50,112.96 L127.00,112.71 L127.50,112.47 L128.00,112.23 L128.50,111.99 L129.00,111.75 L129.50,111.51 L130.00,111.27 L130.50,111.03 L131.00,110.80 L131.50,110.56 L132.00,110.32 L132.50,110.09 L133.00,109.85 L133.50,109.62 L134.00,109.38 L134.50,109.15 L135.00,108.91 L135.50,108.68 L136.00,108.45 L136.50,108.21 L137.00,107.98 L137.50,107.75 L138.00,107.52 L138.50,107.29 L139.00,107.06 L139.50,106.83 L140.00,106.60 L140.50,106.37 L141.00,106.14 L141.50,105.91 L142.00,105.68 L142.50,105.45 L143.00,105.22 L143.50,104.99 L144.00,104.76 L144.50,104.54 L145.00,104.31 L145.50,104.08 L146.00,103.85 L146.50,103.63 L147.00,103.40 L147.50,103.17 L148.00,102.95 L148.50,102.72 L149.00,102.49 L149.50,102.27 L150.00,102.04 L150.50,101.82 L151.00,101.59 L151.50,101.37 L152.00,101.15 L152.50,100.92 L153.00,100.70 L153.50,100.48 L154.00,100.26 L154.50,100.04 L155.00,99.82 L155.50,99.60 L156.00,99.39 L156.50,99.17 L157.00,98.95 L157.50,98.74 L158.00,98.52 L158.50,98.31 L159.00,98.10 L159.50,97.89 L160.00,97.68 L160.50,97.47 L161.00,97.26 L161.50,97.05 L162.00,96.84 L162.50,96.63 L163.00,96.43 L163.50,96.22 L164.00,96.02 L164.50,95.81 L165.00,95.61 L165.50,95.41 L166.00,95.21 L166.50,95.01 L167.00,94.81 L167.50,94.61 L168.00,94.41 L168.50,94.22 L169.00,94.02 L169.50,93.83 L170.00,93.63 L170.50,93.44 L171.00,93.25 L171.50,93.06 L172.00,92.87 L172.50,92.68 L173.00,92.49 L173.50,92.31 L174.00,92.12 L174.50,91.94 L175.00,91.75 L175.50,91.57 L176.00,91.39 L176.50,91.21 L177.00,91.03 L177.50,90.85 L178.00,90.67 L178.50,90.50 L179.00,90.32 L179.50,90.15 L180.00,89.98 L180.50,89.81 L181.00,89.64 L181.50,89.47 L182.00,89.30 L182.50,89.13 L183.00,88.97 L183.50,88.80 L184.00,88.64 L184.50,88.48 L185.00,88.31 L185.50,88.15 L186.00,88.00 L186.50,87.84 L187.00,87.68 L187.50,87.53 L188.00,87.38 L188.50,87.22 L189.00,87.07 L189.50,86.92 L190.00,86.77 L190.50,86.63 L191.00,86.48 L191.50,86.34 L192.00,86.20 L192.50,86.05 L193.00,85.91 L193.50,85.77 L194.00,85.64 L194.50,85.50 L195.00,85.37 L195.50,85.23 L196.00,85.10 L196.50,84.97 L197.00,84.84 L197.50,84.72 L198.00,84.59 L198.50,84.47 L199.00,84.34 L199.50,84.22 L200.00,84.10 L200.50,83.99 L201.00,83.87 L201.50,83.75 L202.00,83.64 L202.50,83.53 L203.00,83.42 L203.50,83.31 L204.00,83.20 L204.50,83.10 L205.00,82.99 L205.50,82.89 L206.00,82.79 L206.50,82.69 L207.00,82.60 L207.50,82.50 L208.00,82.41 L208.50,82.32 L209.00,82.23 L209.50,82.14 L210.00,82.05 L210.50,81.97 L211.00,81.89 L211.50,81.80 L212.00,81.73 L212.50,81.65 L213.00,81.57 L213.50,81.50 L214.00,81.43 L214.50,81.36 L215.00,81.29 L215.50,81.22 L216.00,81.16 L216.50,81.09 L217.00,81.03 L217.50,80.97 L218.00,80.91 L218.50,80.85 L219.00,80.79 L219.50,80.73 L220.00,80.68 L220.50,80.62 L221.00,80.57 L221.50,80.52 L222.00,80.47 L222.50,80.42 L223.00,80.37 L223.50,80.33 L224.00,80.29 L224.50,80.24 L225.00,80.20 L225.50,80.17 L226.00,80.13 L226.50,80.10 L227.00,80.07 L227.50,80.04 L228.00,80.01 L228.50,79.99 L229.00,79.97 L229.50,79.95 L230.00,79.93 L230.50,79.91 L231.00,79.90 L231.50,79.90 L232.00,79.89 L232.50,79.89 L233.00,79.89 L233.50,79.89 L234.00,79.90 L234.50,79.91 L235.00,79.92 L235.50,79.94 L236.00,79.96 L236.50,79.98 L237.00,80.01 L237.50,80.04 L238.00,80.07 L238.50,80.11 L239.00,80.15 L239.50,80.19 L240.00,80.24 L240.50,80.29 L241.00,80.35 L241.50,80.40 L242.00,80.46 L242.50,80.52 L243.00,80.59 L243.50,80.66 L244.00,80.73 L244.50,80.80 L245.00,80.88 L245.50,80.96 L246.00,81.04 L246.50,81.13 L247.00,81.22 L247.50,81.31 L248.00,81.41 L248.50,81.51 L249.00,81.61 L249.50,81.71 L250.00,81.82 L250.50,81.93 L251.00,82.05 L251.50,82.17 L252.00,82.29 L252.50,82.41 L253.00,82.54 L253.50,82.67 L254.00,82.80 L254.50,82.94 L255.00,83.08 L255.50,83.23 L256.00,83.38 L256.50,83.53 L257.00,83.68 L257.50,83.84 L258.00,84.00 L258.50,84.17 L259.00,84.34 L259.50,84.51 L260.00,84.69 L260.50,84.87 L261.00,85.06 L261.50,85.24 L262.00,85.44 L262.50,85.63 L263.00,85.83 L263.50,86.04 L264.00,86.24 L264.50,86.45 L265.00,86.67 L265.50,86.89 L266.00,87.11 L266.50,87.34 L267.00,87.57 L267.50,87.81 L268.00,88.05 L268.50,88.29 L269.00,88.54 L269.50,88.79 L270.00,89.05 L270.50,89.31 L271.00,89.57 L271.50,89.84 L272.00,90.12 L272.50,90.40 L273.00,90.68 L273.50,90.97 L274.00,91.26 L274.50,91.56 L275.00,91.86 L275.50,92.16 L276.00,92.47 L276.50,92.79 L277.00,93.11 L277.50,93.43 L278.00,93.76 L278.50,94.09 L279.00,94.43 L279.50,94.78 L280.00,95.13 L280.50,95.48 L281.00,95.84 L281.50,96.20 L282.00,96.57 L282.50,96.94 L283.00,97.32 L283.50,97.71 L284.00,98.10 L284.50,98.49 L285.00,98.89 L285.50,99.30 L286.00,99.71 L286.50,100.12 L287.00,100.54 L287.50,100.97 L288.00,101.40 L288.50,101.84 L289.00,102.28 L289.50,102.73 L290.00,103.19 L290.50,103.65 L291.00,104.12 L291.50,104.59 L292.00,105.07 L292.50,105.55 L293.00,106.04 L293.50,106.54 L294.00,107.04 L294.50,107.55 L295.00,108.06 L295.50,108.58 L296.00,109.11 L296.50,109.64 L297.00,110.18 L297.50,110.72 L298.00,111.28 L298.50,111.83 L299.00,112.40 L299.50,112.97 L300.00,113.55 L300.50,114.13 L301.00,114.72 L301.50,115.32 L302.00,115.92 L302.50,116.54 L303.00,117.15 L303.50,117.78 L304.00,118.41 L304.50,119.05 L305.00,119.70 L305.50,120.35 L306.00,121.01 L306.50,121.68 L307.00,122.35 L307.50,123.04 L308.00,123.72 L308.50,124.42 L309.00,125.13 L309.50,125.84 L310.00,126.56 L310.50,127.29 L311.00,128.02 L311.50,128.76 L312.00,129.51 L312.50,130.27 L313.00,131.04 L313.50,131.81 L314.00,132.59 L314.50,133.39 L315.00,134.18 L315.50,134.99 L316.00,135.81 L316.50,136.63 L317.00,137.46 L317.50,138.30 L318.00,139.15 L318.50,140.01 L319.00,140.87 L319.50,141.75 L320.00,142.63 L320.50,143.53 L321.00,144.43 L321.50,145.34 L322.00,146.26 L322.50,147.18 L323.00,148.12 L323.50,149.07 L324.00,150.02 L324.50,150.99 L325.00,151.97 L325.50,152.95 L326.00,153.94 L326.50,154.95 L327.00,155.96 L327.50,156.98 L328.00,158.02 L328.50,159.06 L329.00,160.11 L329.50,161.17 L330.00,162.25 L330.50,163.33 L331.00,164.42 L331.50,165.53 L332.00,166.64 L332.50,167.77 L333.00,168.90 L333.50,170.05 L334.00,171.21 L334.50,172.37 L335.00,173.55 L335.50,174.74 L336.00,175.94 L336.50,177.15 L337.00,178.38 L337.50,179.61 L338.00,180.86 L338.50,182.11 L339.00,183.38 L339.50,184.66 L340.00,185.95 L340.50,187.26 L341.00,188.57 L341.50,189.90 L342.00,191.24 L342.50,192.59 L343.00,193.96 L343.50,195.33 L344.00,196.72 L344.50,198.12 L345.00,199.54 L345.50,200.96 L346.00,202.40 L346.50,203.85 L347.00,205.32 L347.50,206.80 L348.00,208.29 L348.50,209.79 L349.00,211.31 L349.50,212.84 L350.00,214.39 L350.50,215.94 L351.00,217.52 L351.40,218.78" stroke="#1a1aff" stroke-width="1.80" stroke-dasharray="11.1 5.3"/>
</g>
<rect x="30.70" y="24.60" width="328.20" height="203.60" fill="none" stroke="#000" stroke-width="1.25"/>
<path d="M36.74,228.20v-1.70M36.74,24.60v1.70M52.68,228.20v-1.70M52.68,24.60v1.70M68.62,228.20v-1.70M68.62,24.60v1.70M84.56,228.20v-1.70M84.56,24.60v1.70M100.50,228.20v-2.70M100.50,24.60v2.70M116.44,228.20v-1.70M116.44,24.60v1.70M132.38,228.20v-1.70M132.38,24.60v1.70M148.32,228.20v-1.70M148.32,24.60v1.70M164.26,228.20v-1.70M164.26,24.60v1.70M180.20,228.20v-2.70M180.20,24.60v2.70M196.14,228.20v-1.70M196.14,24.60v1.70M212.08,228.20v-1.70M212.08,24.60v1.70M228.02,228.20v-1.70M228.02,24.60v1.70M243.96,228.20v-1.70M243.96,24.60v1.70M259.90,228.20v-2.70M259.90,24.60v2.70M275.84,228.20v-1.70M275.84,24.60v1.70M291.78,228.20v-1.70M291.78,24.60v1.70M307.72,228.20v-1.70M307.72,24.60v1.70M323.66,228.20v-1.70M323.66,24.60v1.70M339.60,228.20v-2.70M339.60,24.60v2.70M355.54,228.20v-1.70M355.54,24.60v1.70M30.70,220.42h2.70M358.90,220.42h-2.70M30.70,207.99h1.70M358.90,207.99h-1.70M30.70,195.55h1.70M358.90,195.55h-1.70M30.70,183.12h1.70M358.90,183.12h-1.70M30.70,170.68h2.70M358.90,170.68h-2.70M30.70,158.25h1.70M358.90,158.25h-1.70M30.70,145.81h1.70M358.90,145.81h-1.70M30.70,133.38h1.70M358.90,133.38h-1.70M30.70,120.94h2.70M358.90,120.94h-2.70M30.70,108.50h1.70M358.90,108.50h-1.70M30.70,96.07h1.70M358.90,96.07h-1.70M30.70,83.64h1.70M358.90,83.64h-1.70M30.70,71.20h2.70M358.90,71.20h-2.70M30.70,58.77h1.70M358.90,58.77h-1.70M30.70,46.33h1.70M358.90,46.33h-1.70M30.70,33.90h1.70M358.90,33.90h-1.70" stroke="#000" stroke-width="1.0" fill="none"/>
<g filter="url(#i)"><g transform="rotate(0.03 186 130)">
<text x="100.35" y="237.6" text-anchor="middle" font-size="7.9" fill="#4d4d4d">−0.5</text>
<text x="180.05" y="237.6" text-anchor="middle" font-size="7.9" fill="#4d4d4d">0.0</text>
<text x="259.75" y="237.6" text-anchor="middle" font-size="7.9" fill="#4d4d4d">0.5</text>
<text x="339.45" y="237.6" text-anchor="middle" font-size="7.9" fill="#4d4d4d">1.0</text>
<text x="28.5" y="73.90" text-anchor="end" font-size="7.9" fill="#4d4d4d">0</text>
<text x="28.5" y="123.64" text-anchor="end" font-size="7.9" fill="#4d4d4d">−2</text>
<text x="28.5" y="173.38" text-anchor="end" font-size="7.9" fill="#4d4d4d">−4</text>
<text x="28.5" y="223.12" text-anchor="end" font-size="7.9" fill="#4d4d4d">−6</text>
<text x="160.83" y="255.20" font-size="11.40" fill="#000">log</text>
<text x="176.79" y="257.00" font-size="8.00" fill="#555">10</text>
<text x="186.49" y="255.20" font-size="11.40" fill="#000">(</text>
<text x="189.51" y="255.20" font-size="11.40" fill="#000">h</text>
<text x="197.35" y="255.20" font-size="11.40" fill="#000" font-style="italic">ν</text>
<text x="202.60" y="255.20" font-size="11.40" fill="#000">/</text>
<text x="205.33" y="255.20" font-size="11.40" fill="#000">k</text>
<text x="212.04" y="255.20" font-size="11.40" fill="#000">T</text>
<text x="220.67" y="260.60" font-size="8.00" fill="#000">*</text>
<text x="224.43" y="255.20" font-size="11.40" fill="#000">)</text>
<g transform="translate(11.1,158.4) rotate(-90)">
<text x="-0.47" y="0.00" font-size="11.40" fill="#000">log</text>
<text x="15.99" y="1.80" font-size="8.00" fill="#555">10</text>
<text x="24.49" y="0.00" font-size="11.40" fill="#000">(</text>
<text x="28.85" y="0.00" font-size="11.40" fill="#000" font-style="italic">ν</text>
<path transform="translate(35.7,0)" d="M8.7,-6.4 C8.6,-7.6 7.6,-8.3 6.8,-7.9 C5.8,-7.4 5.6,-5.5 4.6,-2.8 C4.0,-1.2 3.0,0.2 1.6,0.3 C0.6,0.4 0.2,-0.4 0.9,-0.8 C1.8,-1.2 3.0,-0.4 4.4,0.1 C5.8,0.6 7.4,0.8 8.9,0.1" fill="none" stroke="#000" stroke-width="1.0" stroke-linecap="round"/>
<text x="44.57" y="2.70" font-size="8.80" fill="#000" font-style="italic">ν</text>
<text x="50.04" y="2.90" font-size="7.40" fill="#444">,</text>
<text x="51.84" y="3.70" font-size="10.80" fill="#000">∞</text>
<text x="59.93" y="0.00" font-size="11.40" fill="#000">)</text>
</g>
<g fill="none">
<path d="M209.8,157.6H222.2" stroke="#000" stroke-width="1.3"/>
<path d="M195.4,167.9H221" stroke="#ff3333" stroke-width="1.5" stroke-dasharray="8.1 3" stroke-dashoffset="2.4"/>
<path d="M195.4,178.0H221" stroke="#33ff33" stroke-width="1.5" stroke-dasharray="3.4 1.1 7.8 1.1" stroke-dashoffset="0"/>
<path d="M195.4,188.1H221" stroke="#3333ff" stroke-width="1.5" stroke-dasharray="8 3"/>
</g>
<text x="226.98" y="160.60" font-size="6.40" fill="#000" font-style="italic">α</text>
<text x="230.54" y="161.15" font-size="5.40" fill="#000">=</text>
<text x="235.95" y="160.60" font-size="6.30" fill="#000">0</text>
<text x="225.38" y="170.60" font-size="6.40" fill="#000" font-style="italic">α</text>
<text x="229.14" y="171.15" font-size="5.40" fill="#000">=</text>
<text x="235.09" y="170.60" font-size="6.30" fill="#000" textLength="23.6" lengthAdjust="spacingAndGlyphs">−0.55397</text>
<text x="225.38" y="180.70" font-size="6.40" fill="#000" font-style="italic">α</text>
<text x="229.14" y="181.25" font-size="5.40" fill="#000">=</text>
<text x="235.09" y="180.70" font-size="6.30" fill="#000" textLength="23.6" lengthAdjust="spacingAndGlyphs">−0.45397</text>
<text x="225.38" y="190.80" font-size="6.40" fill="#000" font-style="italic">α</text>
<text x="229.14" y="191.35" font-size="5.40" fill="#000">=</text>
<text x="235.09" y="190.80" font-size="6.30" fill="#000" textLength="23.6" lengthAdjust="spacingAndGlyphs">−0.35397</text>
</g></g>
</svg></body></html>
